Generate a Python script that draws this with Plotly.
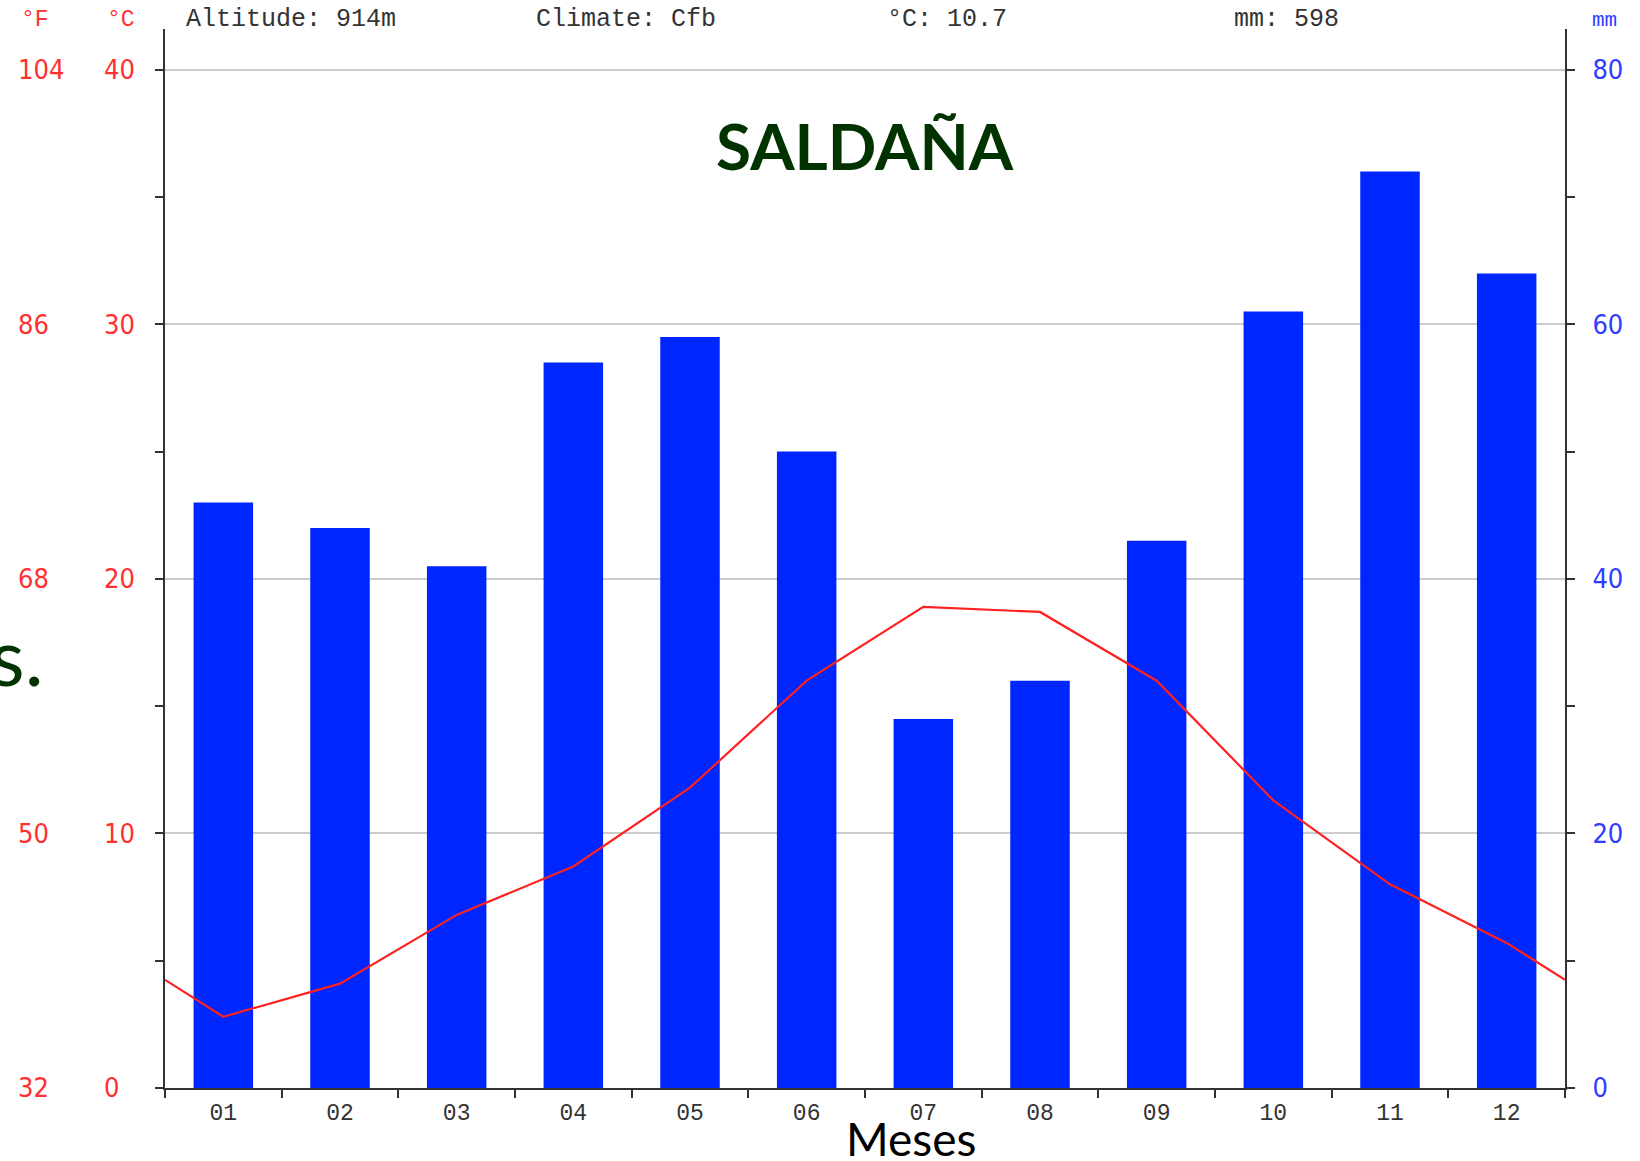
import plotly.graph_objects as go

# ---- data ----
months = ["01", "02", "03", "04", "05", "06", "07", "08", "09", "10", "11", "12"]
precip_mm = [46, 44, 41, 57, 59, 50, 29, 32, 43, 61, 72, 64]
temp_c = [2.8, 4.1, 6.8, 8.7, 11.8, 16.0, 18.9, 18.7, 16.0, 11.3, 8.0, 5.7]
altitude_m = 914
climate = "Cfb"
station = "SALDAÑA"
x_title = "Meses"
side_text = "s."
temp_ticks_c = [0, 10, 20, 30, 40]
precip_ticks = [0, 20, 40, 60, 80]

# ---- layout constants (page pixels; body margin is removed by post_script) ----
W, H = 1640, 1161
PLOT_TOP, PLOT_BOTTOM = 29, 1088
PLOT_LEFT, PLOT_RIGHT = 165, 1565
MT = PLOT_TOP
MB = H - PLOT_BOTTOM
PH = H - MT - MB
T_MAX = 41.6
MM_PER_C = 2

def px(x):
    return x / W

def py(y):
    return (PLOT_BOTTOM - y) / PH

xpos = list(range(1, 13))
edge = (temp_c[0] + temp_c[-1]) / 2
line_x = [0.5] + xpos + [12.5]
line_y = [edge] + temp_c + [edge]
temp_f_ticks = [c * 1.8 + 32 for c in temp_ticks_c]

RED = "#FF3030"
BLUE = "#2E3CFF"
AX = "#333333"
MONO = "Liberation Mono, DejaVu Sans Mono, monospace"
NARROW = "Liberation Sans Narrow, DejaVu Sans Condensed, Arial Narrow, sans-serif"
SANS = "Lato, Open Sans, sans-serif"

fig = go.Figure()
fig.add_trace(go.Bar(x=xpos, y=precip_mm, width=0.51, marker=dict(color="#0026FF", line=dict(width=0)),
                     yaxis="y", hoverinfo="skip", showlegend=False))
fig.add_trace(go.Scatter(x=line_x, y=line_y, mode="lines", line=dict(color="#FF2020", width=2.2),
                         yaxis="y2", hoverinfo="skip", showlegend=False))
# invisible traces that carry the °C and °F label axes
fig.add_trace(go.Scatter(x=line_x, y=line_y, mode="lines", line=dict(width=0), opacity=0,
                         yaxis="y3", hoverinfo="skip", showlegend=False))
fig.add_trace(go.Scatter(x=line_x, y=[v * 1.8 + 32 for v in line_y], mode="lines", line=dict(width=0), opacity=0,
                         yaxis="y4", hoverinfo="skip", showlegend=False))

fig.update_layout(
    width=W, height=H, autosize=False,
    margin=dict(l=0, r=0, t=MT, b=MB, pad=0),
    paper_bgcolor="white", plot_bgcolor="white",
    showlegend=False,
    xaxis=dict(domain=[px(PLOT_LEFT), px(PLOT_RIGHT)], range=[0.5, 12.5], tickmode="array", tickvals=xpos,
               ticktext=months, ticks="", showline=True, linecolor=AX, linewidth=2, showgrid=False, zeroline=False,
               tickfont=dict(family=MONO, size=23, color=AX), ticklabelstandoff=2,
               minor=dict(tickmode="linear", tick0=0.5, dtick=1, ticks="outside", ticklen=8, tickwidth=2,
                          tickcolor=AX, showgrid=False),
               automargin=False, fixedrange=True),
    yaxis=dict(side="right", anchor="x", range=[0, T_MAX * MM_PER_C], tickmode="array", tickvals=precip_ticks,
               ticks="outside", ticklen=8, tickwidth=2, tickcolor=AX, showline=True, linecolor=AX, linewidth=2,
               showgrid=True, gridcolor="#CCCCCC", gridwidth=1.5, zeroline=False,
               tickfont=dict(family=NARROW, size=27, color=BLUE), ticklabelstandoff=12,
               minor=dict(tickmode="linear", tick0=0, dtick=10, ticks="outside", ticklen=8, tickwidth=2,
                          tickcolor=AX, showgrid=False),
               automargin=False, fixedrange=True),
    yaxis2=dict(overlaying="y", side="left", anchor="x", range=[0, T_MAX], tickmode="array", tickvals=temp_ticks_c,
                ticks="outside", ticklen=8, tickwidth=2, tickcolor=AX, showline=True, linecolor=AX, linewidth=2,
                showgrid=False, zeroline=False, showticklabels=False,
                minor=dict(tickmode="linear", tick0=0, dtick=5, ticks="outside", ticklen=8, tickwidth=2,
                           tickcolor=AX, showgrid=False),
                automargin=False, fixedrange=True),
    yaxis3=dict(overlaying="y", side="right", anchor="free", position=px(103), range=[0, T_MAX],
                tickmode="array", tickvals=temp_ticks_c, ticks="", showline=False, showgrid=False, zeroline=False,
                tickfont=dict(family=NARROW, size=27, color=RED), automargin=False, fixedrange=True),
    yaxis4=dict(overlaying="y", side="right", anchor="free", position=px(17), range=[32, 32 + 1.8 * T_MAX],
                tickmode="array", tickvals=temp_f_ticks, ticktext=[f"{v:.0f}" for v in temp_f_ticks],
                ticks="", showline=False, showgrid=False, zeroline=False,
                tickfont=dict(family=NARROW, size=27, color=RED), automargin=False, fixedrange=True),
)

mean_t = sum(temp_c) / len(temp_c)
total_mm = sum(precip_mm)
header = [
    (184, f"Altitude: {altitude_m}m"),
    (534, f"Climate: {climate}"),
    (885, f"°C: {mean_t:.1f}"),
    (1232, f"mm: {total_mm}"),
]
for x, txt in header:
    fig.add_annotation(x=px(x), y=py(20), xref="paper", yref="paper", text=txt, showarrow=False,
                       xanchor="left", yanchor="middle", font=dict(family=MONO, size=25, color="#333333"))

fig.add_annotation(x=px(19), y=py(20), xref="paper", yref="paper", text="°F", showarrow=False,
                   xanchor="left", yanchor="middle", font=dict(family=MONO, size=23, color=RED))
fig.add_annotation(x=px(105), y=py(20), xref="paper", yref="paper", text="°C", showarrow=False,
                   xanchor="left", yanchor="middle", font=dict(family=MONO, size=23, color=RED))
fig.add_annotation(x=px(1590), y=py(21), xref="paper", yref="paper", text="mm", showarrow=False,
                   xanchor="left", yanchor="middle", font=dict(family=MONO, size=21, color=BLUE))

fig.add_annotation(x=px(865), y=py(146), xref="paper", yref="paper", text=f"<b>{station}</b>", showarrow=False,
                   xanchor="center", yanchor="middle", font=dict(family=SANS, size=64, color="#003300"))
fig.add_annotation(x=px(911), y=py(1138), xref="paper", yref="paper", text=x_title, showarrow=False,
                   xanchor="center", yanchor="middle", font=dict(family=SANS, size=46, color="#000000"))
fig.add_annotation(x=px(46), y=py(655), xref="paper", yref="paper", text=side_text, showarrow=False,
                   xanchor="right", yanchor="middle", font=dict(family=SANS, size=80, color="#003300"))

fig.write_html("out.html", config=dict(displayModeBar=False),
               post_script="document.body.style.margin='0';document.body.style.overflow='hidden';")
